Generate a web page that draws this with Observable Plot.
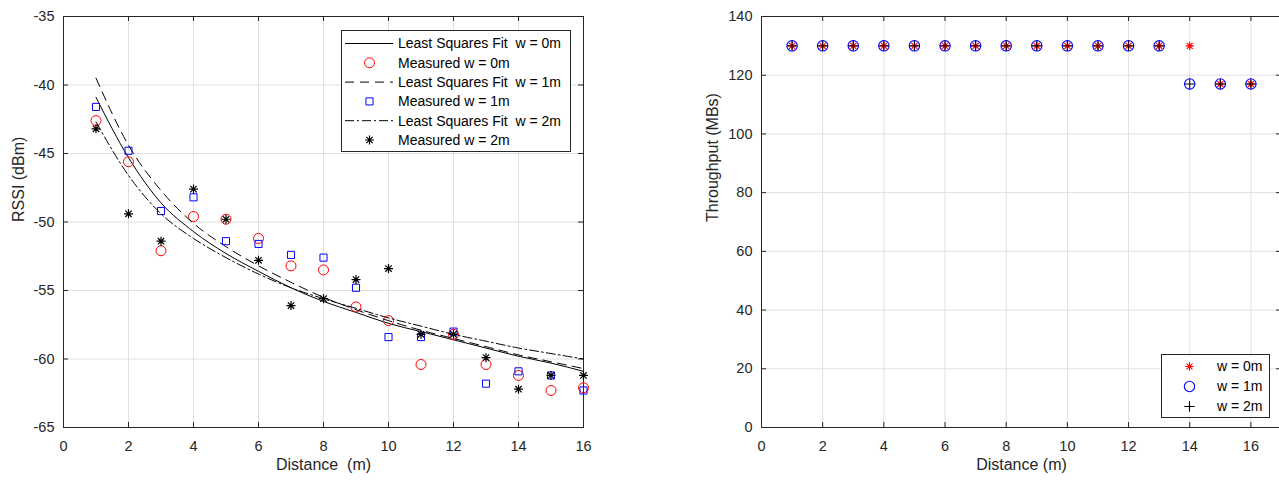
<!DOCTYPE html>
<html><head><meta charset="utf-8">
<script src="https://cdn.jsdelivr.net/npm/d3@7"></script>
<script src="https://cdn.jsdelivr.net/npm/@observablehq/plot@0.6"></script>
<style>
html,body{margin:0;padding:0;background:#fff;overflow:hidden}
#wrap{position:relative;width:1279px;height:480px;overflow:hidden;background:#fff}
#left{position:absolute;left:0;top:0;width:640px;height:480px}
#right{position:absolute;left:640px;top:0;width:660px;height:480px}
#wrap svg{max-width:none !important;display:block}
</style></head><body><div id="wrap"><div id="left"></div><div id="right"></div></div>
<script>
// ---------- data ----------
const distance = [1,2,3,4,5,6,7,8,9,10,11,12,13,14,15,16];
const fitW0 = [-40.9,-45.3,-48.6,-50.7,-52.3,-53.6,-54.8,-55.8,-56.6,-57.4,-58.0,-58.6,-59.2,-59.8,-60.3,-60.9];
const fitW1 = [-39.5,-44.4,-47.7,-50.1,-51.8,-53.2,-54.4,-55.5,-56.4,-57.2,-57.9,-58.5,-59.1,-59.7,-60.2,-60.7];
const fitW2 = [-42.7,-46.6,-49.4,-51.2,-52.6,-53.8,-54.8,-55.6,-56.3,-57.0,-57.6,-58.2,-58.7,-59.2,-59.6,-60.0];
const measW0 = [-42.6,-45.6,-52.1,-49.6,-49.8,-51.2,-53.2,-53.5,-56.2,-57.2,-60.4,-58.2,-60.4,-61.2,-62.3,-62.1];
const measW1 = [-41.6,-44.8,-49.2,-48.2,-51.4,-51.6,-52.4,-52.6,-54.8,-58.4,-58.4,-58.0,-61.8,-60.9,-61.2,-62.3];
const measW2 = [-43.2,-49.4,-51.4,-47.6,-49.8,-52.8,-56.1,-55.6,-54.2,-53.4,-58.2,-58.2,-59.9,-62.2,-61.2,-61.2];
const thrW0 = [130,130,130,130,130,130,130,130,130,130,130,130,130,130,117,117];
const thrW1 = [130,130,130,130,130,130,130,130,130,130,130,130,130,117,117,117];
const thrW2 = [130,130,130,130,130,130,130,130,130,130,130,130,130,117,117,117];
const xTicksLeft = [0,2,4,6,8,10,12,14,16];
const yTicksLeft = [-65,-60,-55,-50,-45,-40,-35];
const xTicksRight = [0,2,4,6,8,10,12,14,16];
const yTicksRight = [0,20,40,60,80,100,120,140];
const leftLegendLabels = ["Least Squares Fit  w = 0m","Measured w = 0m","Least Squares Fit  w = 1m","Measured w = 1m","Least Squares Fit  w = 2m","Measured w = 2m"];
const rightLegendLabels = ["w = 0m","w = 1m","w = 2m"];

// ---------- helpers ----------
const FONT = '"Liberation Sans", Arial, Helvetica, sans-serif';
const AX = "#262626";
const GRID = "#e0e0e0";
const rows = (vals) => distance.map((d, i) => ({d, v: vals[i]}));
const asterisk8 = {draw(ctx, size) {
  const r = Math.sqrt(size / Math.PI), q = r * Math.SQRT1_2;
  ctx.moveTo(-r, 0); ctx.lineTo(r, 0); ctx.moveTo(0, -r); ctx.lineTo(0, r);
  ctx.moveTo(-q, -q); ctx.lineTo(q, q); ctx.moveTo(-q, q); ctx.lineTo(q, -q);
}};
const plus = {draw(ctx, size) {
  const r = Math.sqrt(size / Math.PI);
  ctx.moveTo(-r, 0); ctx.lineTo(r, 0); ctx.moveTo(0, -r); ctx.lineTo(0, r);
}};
const nb = (s) => s.replace(/ /g, "\u00a0");

function frameMarks(xt, yt, innerW, innerH) {
  return [
    Plot.gridX(xt, {stroke: GRID, strokeOpacity: 1}),
    Plot.gridY(yt, {stroke: GRID, strokeOpacity: 1}),
    Plot.tickX(xt, {x: d => d, insetTop: innerH - 5, stroke: AX}),
    Plot.tickX(xt, {x: d => d, insetBottom: innerH - 5, stroke: AX}),
    Plot.tickY(yt, {y: d => d, insetRight: innerW - 5, stroke: AX}),
    Plot.tickY(yt, {y: d => d, insetLeft: innerW - 5, stroke: AX}),
    Plot.frame({stroke: AX}),
    Plot.axisX(xt, {tickSize: 0, tickPadding: 13, tickFormat: d => String(d), fontSize: 14.5, label: null}),
    Plot.axisY(yt, {tickSize: 0, tickPadding: 9, tickFormat: d => String(d), fontSize: 14.5, label: null})
  ];
}

// ---------- left chart ----------
const LW = 640, LH = 480, LML = 63, LMR = 57, LMT = 16, LMB = 53;
const left = Plot.plot({
  width: LW, height: LH, marginLeft: LML, marginRight: LMR, marginTop: LMT, marginBottom: LMB,
  style: {fontFamily: FONT, color: AX, background: "white", overflow: "visible", maxWidth: "none"},
  x: {domain: [0, 16]},
  y: {domain: [-65, -35]},
  marks: [
    ...frameMarks(xTicksLeft, yTicksLeft, LW - LML - LMR, LH - LMT - LMB),
    Plot.line(rows(fitW0), {x: "d", y: "v", stroke: "black", strokeWidth: 1, curve: "monotone-x"}),
    Plot.dot(rows(measW0), {x: "d", y: "v", r: 5, stroke: "#ff0000", strokeWidth: 1, fill: "none"}),
    Plot.line(rows(fitW1), {x: "d", y: "v", stroke: "black", strokeWidth: 1, strokeDasharray: "9,6", curve: "monotone-x"}),
    Plot.dot(rows(measW1), {x: "d", y: "v", r: 4, symbol: "square", stroke: "#0000ff", strokeWidth: 1, fill: "none"}),
    Plot.line(rows(fitW2), {x: "d", y: "v", stroke: "black", strokeWidth: 1, strokeDasharray: "9,3,2,3", curve: "monotone-x"}),
    Plot.dot(rows(measW2), {x: "d", y: "v", r: 4.5, symbol: asterisk8, stroke: "black", strokeWidth: 1.2, fill: "none"}),
    Plot.text([nb("Distance  (m)")], {text: d => d, frameAnchor: "bottom", dy: 42, fontSize: 16}),
    Plot.text(["RSSI (dBm)"], {text: d => d, frameAnchor: "left", rotate: -90, dx: -45, fontSize: 16})
  ]
});
document.getElementById("left").appendChild(left);

// left legend
{
  const svg = d3.select(left);
  const g = svg.append("g").attr("font-family", FONT).attr("font-size", 14).attr("fill", "#000").attr("text-anchor", "start");
  g.append("rect").attr("x", 341.5).attr("y", 30.5).attr("width", 229).attr("height", 121)
    .attr("fill", "white").attr("stroke", AX).attr("stroke-width", 1);
  const dashes = [null, null, "9,6", null, "9,3,2,3", null];
  const y0 = 43.5, dy = 19.3;
  leftLegendLabels.forEach((lab, i) => {
    const y = y0 + i * dy;
    if (i % 2 === 0) {
      const l = g.append("line").attr("x1", 345).attr("x2", 393).attr("y1", y).attr("y2", y)
        .attr("stroke", "black").attr("stroke-width", 1);
      if (dashes[i]) l.attr("stroke-dasharray", dashes[i]);
    } else {
      const sym = i === 1 ? d3.symbol(d3.symbolCircle, Math.PI * 25)
        : i === 3 ? d3.symbol(d3.symbolSquare, Math.PI * 16)
        : d3.symbol(asterisk8, Math.PI * 4.5 * 4.5);
      const col = i === 1 ? "#ff0000" : i === 3 ? "#0000ff" : "black";
      g.append("path").attr("d", sym()).attr("transform", `translate(369.5,${y})`)
        .attr("fill", "none").attr("stroke", col).attr("stroke-width", i === 5 ? 1.2 : 1);
    }
    g.append("text").attr("x", 398).attr("y", y).attr("dy", "0.35em").attr("text-anchor", "start")
      .style("white-space", "pre").text(lab);
  });
}

// ---------- right chart ----------
const RW = 660, RH = 480, RML = 121, RMR = 19, RMT = 16, RMB = 53;
const right = Plot.plot({
  width: RW, height: RH, marginLeft: RML, marginRight: RMR, marginTop: RMT, marginBottom: RMB,
  style: {fontFamily: FONT, color: AX, background: "white", overflow: "visible", maxWidth: "none"},
  x: {domain: [0, 17]},
  y: {domain: [0, 140]},
  marks: [
    ...frameMarks(xTicksRight, yTicksRight, RW - RML - RMR, RH - RMT - RMB),
    Plot.dot(rows(thrW0), {x: "d", y: "v", r: 4.2, symbol: asterisk8, stroke: "#ff0000", strokeWidth: 1.2, fill: "none"}),
    Plot.dot(rows(thrW1), {x: "d", y: "v", r: 5.2, stroke: "#0000ff", strokeWidth: 1.1, fill: "none"}),
    Plot.dot(rows(thrW2), {x: "d", y: "v", r: 5.2, symbol: plus, stroke: "black", strokeWidth: 1, fill: "none"}),
    Plot.text(["Distance (m)"], {text: d => d, frameAnchor: "bottom", dy: 42, fontSize: 16}),
    Plot.text(["Throughput (MBs)"], {text: d => d, frameAnchor: "left", rotate: -90, dx: -49, fontSize: 16})
  ]
});
document.getElementById("right").appendChild(right);

// right legend
{
  const svg = d3.select(right);
  const g = svg.append("g").attr("font-family", FONT).attr("font-size", 14).attr("fill", "#000").attr("text-anchor", "start");
  g.append("rect").attr("x", 521.5).attr("y", 354.5).attr("width", 108).attr("height", 63)
    .attr("fill", "white").attr("stroke", AX).attr("stroke-width", 1);
  const syms = [d3.symbol(asterisk8, Math.PI * 4.2 * 4.2), d3.symbol(d3.symbolCircle, Math.PI * 5.2 * 5.2), d3.symbol(plus, Math.PI * 5.2 * 5.2)];
  const cols = ["#ff0000", "#0000ff", "black"];
  rightLegendLabels.forEach((lab, i) => {
    const y = 366.5 + i * 20;
    g.append("path").attr("d", syms[i]()).attr("transform", `translate(549.5,${y})`)
      .attr("fill", "none").attr("stroke", cols[i]).attr("stroke-width", 1.1);
    g.append("text").attr("x", 577).attr("y", y).attr("dy", "0.35em").attr("text-anchor", "start").text(lab);
  });
}
</script></body></html>
